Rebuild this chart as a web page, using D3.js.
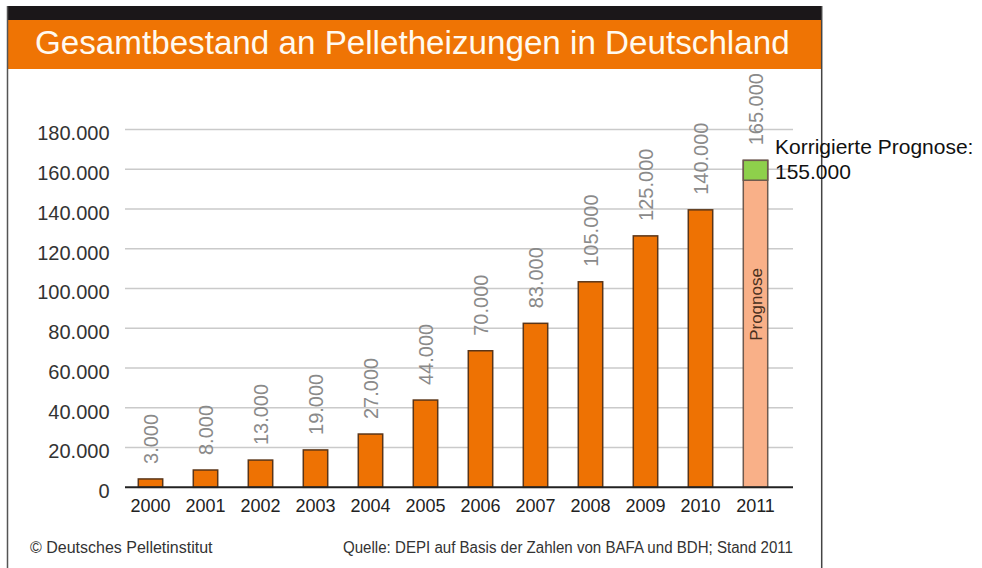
<!DOCTYPE html>
<html>
<head>
<meta charset="utf-8">
<script src="https://cdn.jsdelivr.net/npm/d3@7"></script>
<style>
  html, body { margin: 0; padding: 0; background: #fff; }
  svg { display: block; font-family: "Liberation Sans", Arial, Helvetica, sans-serif; }
</style>
</head>
<body>
<svg id="chart" width="982" height="568"></svg>
<script>
// ---- data ----
const years = ["2000","2001","2002","2003","2004","2005","2006","2007","2008","2009","2010","2011"];
const barHeights = [4200, 8700, 13700, 18800, 26800, 43900, 68700, 82500, 103400, 126500, 139600, 164500];
const labelValues = [3000, 8000, 13000, 19000, 27000, 44000, 70000, 83000, 105000, 125000, 140000, 165000];
const forecastYear = "2011";
const correctedForecast = 154500;
const correctedLabel = 155000;
const yTicks = [0, 20000, 40000, 60000, 80000, 100000, 120000, 140000, 160000, 180000];
const titleText = "Gesamtbestand an Pelletheizungen in Deutschland";
const footLeft = "© Deutsches Pelletinstitut";
const footRight = "Quelle: DEPI auf Basis der Zahlen von BAFA und BDH; Stand 2011";
const forecastText = "Prognose";
const correctedText = "Korrigierte Prognose:";

// ---- setup ----
const de = d3.formatLocale({decimal: ",", thousands: ".", grouping: [3], currency: ["", "€"]});
const fmt = de.format(",d");
const svg = d3.select("#chart");

svg.append("rect").attr("x", 0).attr("y", 0).attr("width", 982).attr("height", 568).attr("fill", "#fff");

// frame
svg.append("rect").attr("x", 7).attr("y", 6).attr("width", 815).attr("height", 14).attr("fill", "#1b1719");
svg.append("rect").attr("x", 7).attr("y", 20).attr("width", 815).attr("height", 49).attr("fill", "#EF7404");
svg.append("line").attr("x1", 7.5).attr("x2", 7.5).attr("y1", 6).attr("y2", 568).attr("stroke", "#555").attr("stroke-width", 1.5);
svg.append("line").attr("x1", 821.7).attr("x2", 821.7).attr("y1", 6).attr("y2", 568).attr("stroke", "#444").attr("stroke-width", 1.5);

// title
const title = svg.append("text").attr("x", 35).attr("y", 53.5)
  .attr("fill", "#fffaf0").attr("font-size", 32).text(titleText);
{
  const len = title.node().getComputedTextLength();
  title.attr("font-size", 32 * 755 / len);
}

// scales
const x = d3.scaleBand().domain(years).range([123, 783]).paddingInner(0.556).paddingOuter(0.278);
const y = d3.scaleLinear().domain([0, 180000]).range([487.3, 129.55]);

// gridlines
svg.append("g").selectAll("line").data(yTicks.filter(d => d > 0)).join("line")
  .attr("x1", 125).attr("x2", 793)
  .attr("y1", d => y(d)).attr("y2", d => y(d))
  .attr("stroke", "#cacaca").attr("stroke-width", 1.5);

// y axis labels
const yAxis = d3.axisLeft(y).tickValues(yTicks).tickFormat(fmt).tickSize(0).tickPadding(0);
const gy = svg.append("g").attr("transform", "translate(109.5,4)").call(yAxis);
gy.select(".domain").remove();
gy.selectAll("text").attr("font-size", 20).attr("fill", "#333")
  .attr("font-family", "'Liberation Sans', Arial, sans-serif");

// bars
const data = years.map((yr, i) => ({yr, h: barHeights[i], lab: labelValues[i]}));
svg.append("g").selectAll("rect").data(data).join("rect")
  .attr("x", d => x(d.yr)).attr("width", x.bandwidth())
  .attr("y", d => y(d.h)).attr("height", d => y(0) - y(d.h))
  .attr("fill", d => d.yr === forecastYear ? "#F9B088" : "#EE7203")
  .attr("stroke", d => d.yr === forecastYear ? "#6e5a4e" : "#5a3518")
  .attr("stroke-width", 1.5);

// corrected forecast green segment
svg.append("rect")
  .attr("x", x(forecastYear)).attr("width", x.bandwidth())
  .attr("y", y(barHeights[years.indexOf(forecastYear)]))
  .attr("height", y(correctedForecast) - y(barHeights[years.indexOf(forecastYear)]))
  .attr("fill", "#8ED04B").attr("stroke", "#6e5a4e").attr("stroke-width", 1.5);

// baseline
svg.append("line").attr("x1", 125).attr("x2", 793).attr("y1", y(0)).attr("y2", y(0))
  .attr("stroke", "#222").attr("stroke-width", 2);

// x axis labels
const xAxis = d3.axisBottom(x).tickSize(0).tickPadding(0);
const gx = svg.append("g").attr("transform", "translate(0,499.5)").call(xAxis);
gx.select(".domain").remove();
gx.selectAll("text").attr("font-size", 18).attr("fill", "#222")
  .attr("font-family", "'Liberation Sans', Arial, sans-serif").attr("dy", "0.72em");

// value labels (rotated)
svg.append("g").selectAll("text").data(data).join("text")
  .attr("transform", d => `translate(${x(d.yr) + x.bandwidth() / 2},${y(d.h) - 15}) rotate(-90)`)
  .attr("dy", "0.36em")
  .attr("font-size", 20).attr("fill", "#8a8a8a")
  .text(d => fmt(d.lab));

// "Prognose" inside the forecast bar
svg.append("text")
  .attr("transform", `translate(${x(forecastYear) + x.bandwidth() / 2 + 6},${y(92000)}) rotate(-90)`)
  .attr("text-anchor", "middle").attr("font-size", 17).attr("fill", "#4a3020")
  .text(forecastText);

// corrected forecast annotation
const ann = svg.append("text").attr("x", 775).attr("y", 154).attr("font-size", 21).attr("fill", "#111");
ann.append("tspan").attr("x", 775).attr("y", 154).text(correctedText);
ann.append("tspan").attr("x", 775).attr("y", 178.5).text(fmt(correctedLabel));

// footers
svg.append("text").attr("x", 30).attr("y", 552.5).attr("font-size", 16).attr("fill", "#333").text(footLeft);
const fr = svg.append("text").attr("x", 793).attr("y", 552.5).attr("text-anchor", "end")
  .attr("font-size", 16).attr("fill", "#333").text(footRight);
{
  const len = fr.node().getComputedTextLength();
  if (len > 452) fr.attr("textLength", 450).attr("lengthAdjust", "spacingAndGlyphs");
}
</script>
</body>
</html>
